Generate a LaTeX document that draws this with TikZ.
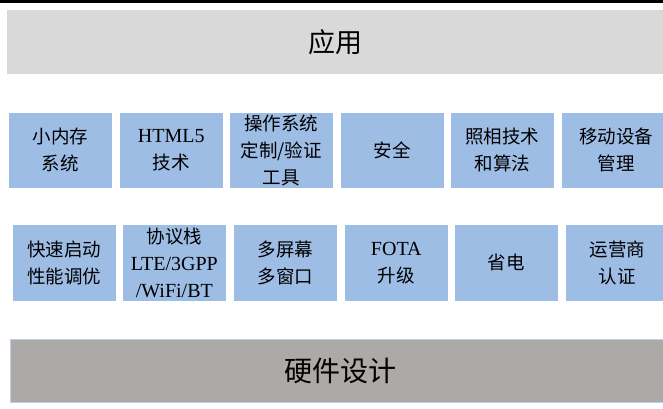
\documentclass[tikz,border=0pt]{standalone}
\usepackage{fontspec}
\setmainfont{Liberation Serif}
\newfontfamily\cjk{Noto Sans CJK SC}
\newcommand{\lat}[1]{{\rmfamily\fontsize{20}{27}\selectfont #1}}
\begin{document}
\begin{tikzpicture}[x=1pt,y=-1pt,
  cell/.style={fill=cellblue,draw=white,line width=0.6pt,inner sep=0pt,align=center,
    font=\cjk\fontsize{18.5}{27}\selectfont,anchor=north west},
  band/.style={inner sep=0pt,anchor=north west}]
\definecolor{cellblue}{HTML}{9DBDE5}
\definecolor{topgray}{HTML}{D9D9D9}
\definecolor{botgray}{HTML}{ADA9A7}
\definecolor{edgeblue}{HTML}{B8D0F0}
\useasboundingbox (0,0) rectangle (663,408);
\clip (0,0) rectangle (663,408);
\fill[black] (0,0) rectangle (663,3);
\node[band,fill=topgray,minimum width=660pt,minimum height=64pt] (app) at (7,10) {};
\node (apptxt) at (app.center -| 335,0) {\cjk\fontsize{27}{30}\selectfont 应用};
% row 1
\node[cell,minimum width=104pt,minimum height=76pt] (a1) at (8,112) {小内存\\系统};
\node[cell,minimum width=104pt,minimum height=76pt] (a2) at (119,112) {\lat{HTML5}\\技术};
\node[cell,minimum width=104pt,minimum height=76pt] (a3) at (229,112) {操作系统\\定制/验证\\工具};
\node[cell,minimum width=104pt,minimum height=76pt] (a4) at (340,112) {安全};
\node[cell,minimum width=104pt,minimum height=76pt] (a5) at (450,112) {照相技术\\和算法};
\node[cell,minimum width=110pt,minimum height=76pt] (a6) at (561,112) {移动设备\hspace{6pt}\\管理\hspace{6pt}};
% row 2
\node[cell,minimum width=104pt,minimum height=77pt] (b1) at (12,224) {快速启动\\性能调优};
\node[cell,minimum width=104pt,minimum height=77pt] (b2) at (122,224) {\fontsize{18.5}{25}\selectfont 协议栈\\\lat{LTE/3GPP}\\\lat{/WiFi/BT}};
\node[cell,minimum width=104pt,minimum height=77pt] (b3) at (233,224) {多屏幕\\多窗口};
\node[cell,minimum width=104pt,minimum height=77pt] (b4) at (344,224) {\lat{FOTA}\\升级};
\node[cell,minimum width=104pt,minimum height=77pt] (b5) at (454,224) {省电};
\node[cell,minimum width=104pt,minimum height=77pt] (b6) at (565,224) {运营商\\认证};
% bottom
\node[band,fill=botgray,draw=edgeblue,line width=0.8pt,minimum width=660pt,minimum height=63pt] (hw) at (10,339) {};
\node (hwtxt) at (hw.center -| 340,0) {\cjk\fontsize{28}{30}\selectfont 硬件设计};
\end{tikzpicture}
\end{document}
